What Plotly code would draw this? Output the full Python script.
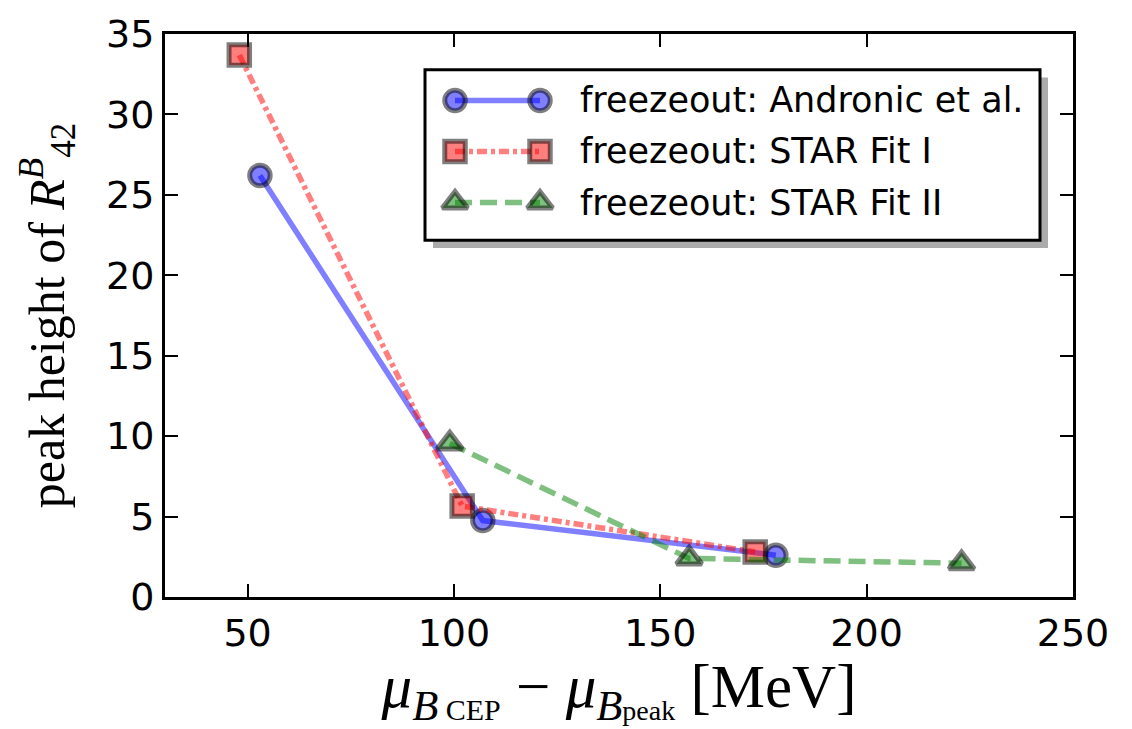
import plotly.graph_objects as go

# Peak height of R42^B versus distance of the freeze-out point from the CEP
andronic_x = [53, 107, 178]
andronic_y = [26.2, 4.75, 2.6]

star1_x = [48, 102, 173]
star1_y = [33.7, 5.65, 2.8]

star2_x = [99, 157, 223]
star2_y = [9.55, 2.4, 2.1]

series_names = [
    "freezeout: Andronic et al.",
    "freezeout: STAR Fit I",
    "freezeout: STAR Fit II",
]

x_ticks = [50, 100, 150, 200, 250]
y_ticks = [0, 5, 10, 15, 20, 25, 30, 35]

W, H = 1132, 729
ML, MR, MT, MB = 165, 59, 29, 132
PW, PH = W - ML - MR, H - MT - MB


def px_x(px):
    """Horizontal pixel -> paper fraction of the plot area."""
    return (px - ML) / PW


def px_y(py):
    """Vertical pixel (from top) -> paper fraction of the plot area."""
    return (H - MB - py) / PH


styles = [
    dict(color="rgba(0,0,255,0.5)", dash="solid", symbol="circle", size=20.5),
    dict(color="rgba(255,0,0,0.5)", dash="10px,4px,4px,4px", symbol="square", size=20.5),
    dict(color="rgba(0,128,0,0.5)", dash="17px,8px", symbol="triangle-up", size=22),
]
data = [(andronic_x, andronic_y), (star1_x, star1_y), (star2_x, star2_y)]
EDGE = dict(color="rgba(0,0,0,0.5)", width=5)

fig = go.Figure()
for name, (xs, ys), st in zip(series_names, data, styles):
    fig.add_trace(go.Scatter(
        x=xs, y=ys, name=name, mode="lines+markers", showlegend=False,
        line=dict(color=st["color"], width=5.5, dash=st["dash"]),
        marker=dict(symbol=st["symbol"], size=st["size"], color=st["color"], line=EDGE),
    ))

# legend samples: a short segment with a marker at each end, one row per series
for row, (name, st) in enumerate(zip(series_names, styles)):
    fig.add_trace(go.Scatter(
        x=[0, 1], y=[row, row], xaxis="x2", yaxis="y2",
        mode="lines+markers", showlegend=False, hoverinfo="skip", cliponaxis=False,
        line=dict(color=st["color"], width=5.5, dash=st["dash"]),
        marker=dict(symbol=st["symbol"], size=st["size"], color=st["color"], line=EDGE),
    ))
    fig.add_annotation(
        x=px_x(578), y=row, xref="paper", yref="y2", xanchor="left", yanchor="middle",
        text=name, showarrow=False,
        font=dict(family="DejaVu Sans", size=35, color="black"),
    )

axis_common = dict(
    showline=True, linecolor="black", linewidth=3, mirror="ticks",
    ticks="inside", ticklen=13, tickwidth=1.5, tickcolor="black",
    showgrid=False, zeroline=False,
    tickfont=dict(family="DejaVu Sans", size=38, color="black"),
)

xaxis = dict(
    range=[30, 250], tickvals=x_ticks, ticktext=[str(v) for v in x_ticks],
    title=dict(
        text="<i>μ</i><sub><i>B</i><span style='font-size:30px'> CEP</span></sub>"
             " − <i>μ</i><sub><i>B</i><span style='font-size:28px'>peak</span></sub>"
             " [MeV]",
        font=dict(family="Liberation Serif", size=61, color="black"),
        standoff=12,
    ),
    **axis_common,
)
yaxis = dict(
    range=[0, 35], tickvals=y_ticks, ticktext=[str(v) for v in y_ticks],
    title=dict(
        text="peak height of <i>R</i><sup><i>B</i></sup><sub>42</sub>",
        font=dict(family="Liberation Serif", size=50, color="black"),
        standoff=26,
    ),
    **axis_common,
)

# legend box with drop shadow
box_x0, box_x1, box_y0, box_y1 = px_x(425), px_x(1040), px_y(237), px_y(65)
sh_dx, sh_dy = 8 / PW, 8 / PH
fig.add_shape(type="rect", xref="paper", yref="paper",
              x0=box_x0 + sh_dx, x1=box_x1 + sh_dx, y0=box_y0 - sh_dy, y1=box_y1 - sh_dy,
              fillcolor="rgba(0,0,0,0.33)", line=dict(width=0), layer="below")
fig.add_shape(type="rect", xref="paper", yref="paper",
              x0=box_x0, x1=box_x1, y0=box_y0, y1=box_y1,
              fillcolor="white", line=dict(color="black", width=3), layer="below")

# legend sample axes: rows 51.5 px apart, samples 85 px wide
ROW_PX, SAMPLE_PX = 51.5, 85
fig.update_layout(
    width=W, height=H,
    margin=dict(l=ML, r=MR, t=MT, b=MB),
    paper_bgcolor="white", plot_bgcolor="white",
    showlegend=False,
    xaxis=xaxis, yaxis=yaxis,
    xaxis2=dict(domain=[px_x(455 - 0.2 * SAMPLE_PX), px_x(540 + 0.2 * SAMPLE_PX)],
                range=[-0.2, 1.2], anchor="y2",
                visible=False, fixedrange=True, showgrid=False, zeroline=False),
    yaxis2=dict(domain=[px_y(199 + 0.5 * ROW_PX), px_y(96 - 0.5 * ROW_PX)],
                range=[2.5, -0.5], anchor="x2",
                visible=False, fixedrange=True, showgrid=False, zeroline=False),
)

fig.write_html("out.html")
